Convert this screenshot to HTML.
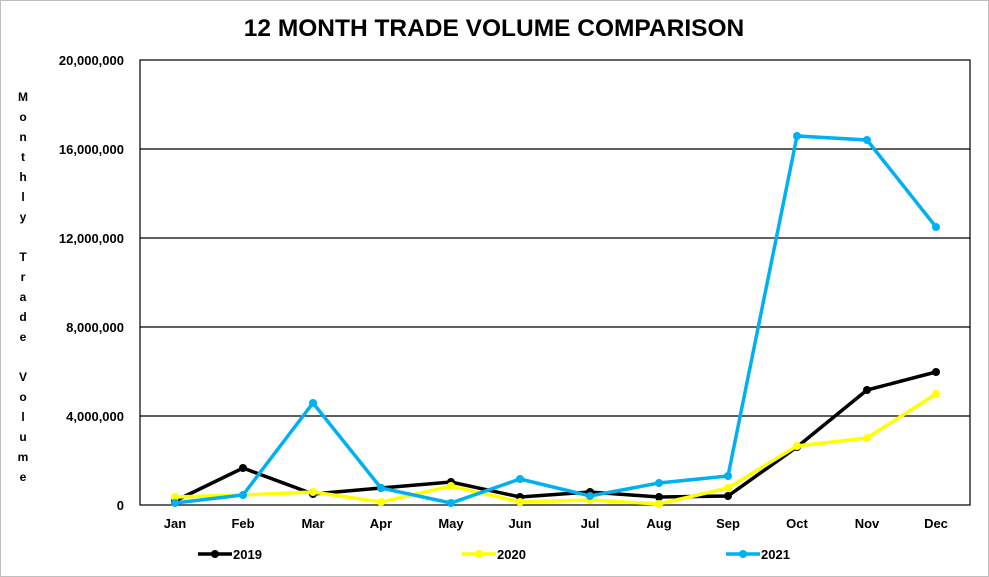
<!DOCTYPE html>
<html><head><style>
body{margin:0;background:#fff;}
svg{display:block;font-family:"Liberation Sans",Arial,sans-serif;font-weight:bold;}
</style></head><body>
<svg width="989" height="577" viewBox="0 0 989 577">
<rect x="0.5" y="0.5" width="988" height="576" fill="#fff" stroke="#bfbfbf"/>
<text x="494" y="36" text-anchor="middle" font-size="24.5">12 MONTH TRADE VOLUME COMPARISON</text>
<g stroke="#000" stroke-width="1.2">
<line x1="140" y1="149" x2="970" y2="149"/>
<line x1="140" y1="238" x2="970" y2="238"/>
<line x1="140" y1="327" x2="970" y2="327"/>
<line x1="140" y1="416" x2="970" y2="416"/>
<rect x="140" y="60" width="830" height="445" fill="none"/>
</g>
<g font-size="13" text-anchor="end">
<text x="124" y="65">20,000,000</text>
<text x="124" y="154">16,000,000</text>
<text x="124" y="243">12,000,000</text>
<text x="124" y="332">8,000,000</text>
<text x="124" y="421">4,000,000</text>
<text x="124" y="510">0</text>
</g>
<g font-size="13" text-anchor="middle">
<text x="175" y="528">Jan</text><text x="243" y="528">Feb</text><text x="313" y="528">Mar</text>
<text x="381" y="528">Apr</text><text x="451" y="528">May</text><text x="520" y="528">Jun</text>
<text x="590" y="528">Jul</text><text x="659" y="528">Aug</text><text x="728" y="528">Sep</text>
<text x="797" y="528">Oct</text><text x="867" y="528">Nov</text><text x="936" y="528">Dec</text>
</g>
<g font-size="12" text-anchor="middle">
<text x="23" y="101">M</text><text x="23" y="121">o</text><text x="23" y="141">n</text>
<text x="23" y="161">t</text><text x="23" y="181">h</text><text x="23" y="201">l</text>
<text x="23" y="221">y</text><text x="23" y="261">T</text><text x="23" y="281">r</text>
<text x="23" y="301">a</text><text x="23" y="321">d</text><text x="23" y="341">e</text>
<text x="23" y="381">V</text><text x="23" y="401">o</text><text x="23" y="421">l</text>
<text x="23" y="441">u</text><text x="23" y="461">m</text><text x="23" y="481">e</text>
</g>
<polyline fill="none" stroke="#000" stroke-width="3.5" points="175,501 243,468 313,494 381,488 451,482 520,497 590,492 659,497 728,496 797,447 867,390 936,372"/>
<g fill="#000"><circle cx="175" cy="501" r="4"/><circle cx="243" cy="468" r="4"/><circle cx="313" cy="494" r="4"/><circle cx="381" cy="488" r="4"/><circle cx="451" cy="482" r="4"/><circle cx="520" cy="497" r="4"/><circle cx="590" cy="492" r="4"/><circle cx="659" cy="497" r="4"/><circle cx="728" cy="496" r="4"/><circle cx="797" cy="447" r="4"/><circle cx="867" cy="390" r="4"/><circle cx="936" cy="372" r="4"/></g>
<polyline fill="none" stroke="#ffff00" stroke-width="3.5" points="175,497 243,495 313,492 381,502 451,486 520,502 590,500 659,504 728,488 797,446 867,438 936,394"/>
<g fill="#ffff00"><circle cx="175" cy="497" r="4"/><circle cx="243" cy="495" r="4"/><circle cx="313" cy="492" r="4"/><circle cx="381" cy="502" r="4"/><circle cx="451" cy="486" r="4"/><circle cx="520" cy="502" r="4"/><circle cx="590" cy="500" r="4"/><circle cx="659" cy="504" r="4"/><circle cx="728" cy="488" r="4"/><circle cx="797" cy="446" r="4"/><circle cx="867" cy="438" r="4"/><circle cx="936" cy="394" r="4"/></g>
<polyline fill="none" stroke="#00b0f0" stroke-width="3.5" points="175,503 243,495 313,403 381,488 451,503 520,479 590,496 659,483 728,476 797,136 867,140 936,227"/>
<g fill="#00b0f0"><circle cx="175" cy="503" r="4"/><circle cx="243" cy="495" r="4"/><circle cx="313" cy="403" r="4"/><circle cx="381" cy="488" r="4"/><circle cx="451" cy="503" r="4"/><circle cx="520" cy="479" r="4"/><circle cx="590" cy="496" r="4"/><circle cx="659" cy="483" r="4"/><circle cx="728" cy="476" r="4"/><circle cx="797" cy="136" r="4"/><circle cx="867" cy="140" r="4"/><circle cx="936" cy="227" r="4"/></g>
<g font-size="13">
<line x1="198" y1="554" x2="232" y2="554" stroke="#000" stroke-width="3.5"/><circle cx="215" cy="554" r="4" fill="#000"/><text x="233" y="559">2019</text>
<line x1="462" y1="554" x2="496" y2="554" stroke="#ffff00" stroke-width="3.5"/><circle cx="479" cy="554" r="4" fill="#ffff00"/><text x="497" y="559">2020</text>
<line x1="726" y1="554" x2="760" y2="554" stroke="#00b0f0" stroke-width="3.5"/><circle cx="743" cy="554" r="4" fill="#00b0f0"/><text x="761" y="559">2021</text>
</g>
</svg>
</body></html>
